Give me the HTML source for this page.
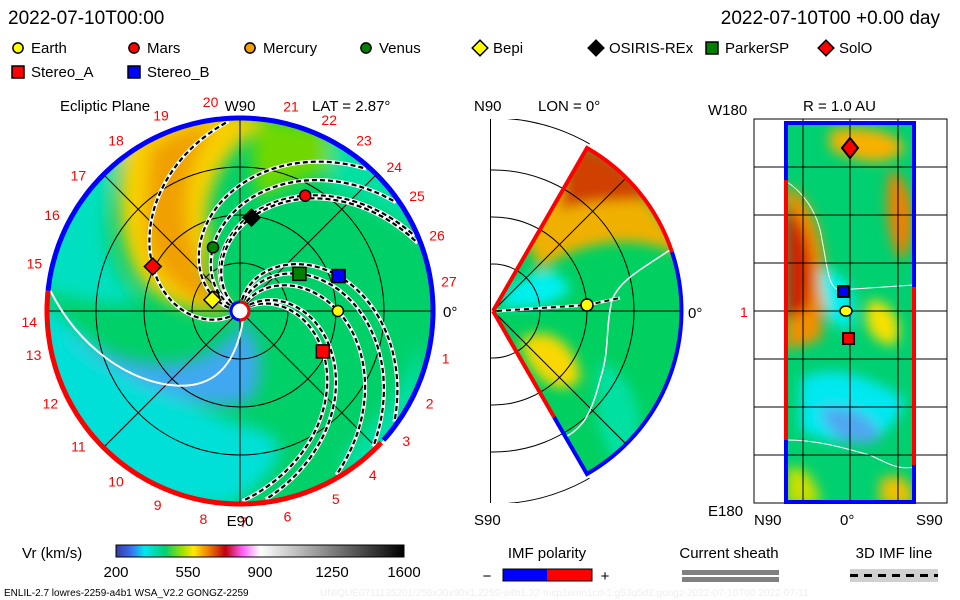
<!DOCTYPE html>
<html><head><meta charset="utf-8"><style>
body{margin:0;background:#fff;width:960px;height:600px;overflow:hidden;font-family:"Liberation Sans",sans-serif}
svg{position:absolute;left:0;top:0}
text{font-family:"Liberation Sans",sans-serif}
</style></head><body>
<svg id="s" width="960" height="600" viewBox="0 0 960 600">
<defs>
<filter id="bl" x="-50%" y="-50%" width="200%" height="200%"><feGaussianBlur stdDeviation="8"/></filter>
<filter id="bl2" x="-50%" y="-50%" width="200%" height="200%"><feGaussianBlur stdDeviation="6"/></filter>
<clipPath id="disk"><circle cx="240" cy="311" r="193"/></clipPath>
<clipPath id="wedge"><path d="M493,311 L587,148 A188,188 0 0 1 587,474 Z"/></clipPath>
<clipPath id="outside"><path d="M490,119 L604,119 L493,311 L604,503 L490,503 Z"/></clipPath>
<clipPath id="rect"><rect x="786" y="123" width="128" height="379"/></clipPath>
<linearGradient id="cbar" x1="0" x2="1">
<stop offset="0" stop-color="#3a3aa0"/><stop offset="0.05" stop-color="#3a6af0"/><stop offset="0.1" stop-color="#00e8f0"/>
<stop offset="0.17" stop-color="#00d070"/><stop offset="0.23" stop-color="#a0e000"/><stop offset="0.27" stop-color="#ffe800"/>
<stop offset="0.32" stop-color="#f08000"/><stop offset="0.38" stop-color="#c00010"/><stop offset="0.44" stop-color="#ff60ff"/>
<stop offset="0.5" stop-color="#ffffff"/><stop offset="1" stop-color="#000000"/></linearGradient>
</defs>

<text x="8" y="24" font-size="19">2022-07-10T00:00</text>
<text x="940" y="24" font-size="19" text-anchor="end">2022-07-10T00 +0.00 day</text>
<g id="legend" font-size="15"></g>

<!-- Ecliptic panel -->
<g>
<g clip-path="url(#disk)">
<rect x="40" y="110" width="400" height="400" fill="#00d068"/>
<g filter="url(#bl)">
<path d="M40,300 C80,330 150,400 260,430 C300,445 270,480 230,505 L40,505 Z" fill="#00e0d8"/>
<path d="M60,330 C120,380 200,420 250,400 C270,370 255,340 245,320 C220,360 160,390 60,330 Z" fill="#40a8f0"/>
<path d="M40,230 C60,180 90,150 130,130 C100,200 90,260 140,300 C120,310 80,300 40,290 Z" fill="#00e0c0"/>
<path d="M130,125 C180,105 240,108 270,120 C220,150 200,200 210,240 C200,270 215,300 235,312 C190,315 150,300 135,270 C115,230 115,170 130,125 Z" fill="#f8d000"/>
<path d="M150,150 C175,130 200,125 215,125 C180,170 170,240 230,310 C180,300 150,270 145,230 Z" fill="#f0a000"/>
<path d="M260,120 C320,120 380,150 400,170 C340,160 290,180 260,200 C250,170 250,140 260,120 Z" fill="#70d800"/>
<path d="M330,130 C380,150 420,200 430,240 C400,220 360,200 330,190 Z" fill="#00e0a0"/>
<path d="M340,460 C380,420 410,380 420,340 C430,400 400,460 360,490 Z" fill="#00e0a8"/>
</g>
</g>
<g fill="none" stroke="#000" stroke-width="1">
<circle cx="240" cy="311" r="48"/><circle cx="240" cy="311" r="96"/><circle cx="240" cy="311" r="144"/>
<line x1="47" y1="311" x2="433" y2="311"/><line x1="240" y1="118" x2="240" y2="504"/>
<line x1="104" y1="175" x2="376" y2="447"/><line x1="104" y1="447" x2="376" y2="175"/>
</g>
<path d="M50,290 C80,350 130,380 170,385 C210,390 235,370 243,320" fill="none" stroke="#fff" stroke-width="2"/>
<g id="spirals"></g>
<path id="rimblue" fill="none" stroke="#0000ff" stroke-width="5"/>
<path id="rimred" fill="none" stroke="#ff0000" stroke-width="5"/>
<circle cx="240" cy="311" r="9" fill="#fff" stroke="#0000ff" stroke-width="3"/>
<path d="M240,302 A9,9 0 0 1 240,320" fill="none" stroke="#f00" stroke-width="3"/>
<g id="bodies"></g>
<g id="rimlabels" font-size="14" fill="#ff0000" text-anchor="middle"></g>
<text x="60" y="111" font-size="15">Ecliptic Plane</text>
<text x="240" y="111" font-size="15" text-anchor="middle">W90</text>
<text x="312" y="111" font-size="15">LAT = 2.87°</text>
<text x="240" y="526" font-size="15" text-anchor="middle">E90</text>
<text x="443" y="317" font-size="15">0°</text>
</g>

<!-- Meridional panel -->
<g>
<rect x="490" y="119" width="1" height="384" fill="#000"/>
<g fill="none" stroke="#000" clip-path="url(#outside)">
<circle cx="493" cy="311" r="47"/><circle cx="493" cy="311" r="94"/><circle cx="493" cy="311" r="141"/><circle cx="493" cy="311" r="193"/>
</g>
<g clip-path="url(#wedge)">
<rect x="480" y="130" width="220" height="360" fill="#00d060"/>
<g filter="url(#bl2)">
<path d="M520,225 C560,170 600,150 640,190 L690,260 C640,230 580,240 540,270 Z" fill="#f0b000"/>
<path d="M570,150 C600,140 630,170 650,200 C620,200 590,200 560,210 Z" fill="#d04000"/>
<path d="M500,300 C520,270 560,260 570,290 C550,310 520,310 500,305 Z" fill="#00f0f0"/>
<path d="M520,340 C550,320 580,350 580,380 C560,400 530,380 520,340 Z" fill="#f8d800"/>
<path d="M600,360 C640,380 650,430 630,470 C600,460 590,410 600,360 Z" fill="#00e0a0"/>
</g>
<g fill="none" stroke="#000"><circle cx="493" cy="311" r="47"/><circle cx="493" cy="311" r="94"/><circle cx="493" cy="311" r="141"/>
<line x1="493" y1="311" x2="700" y2="311"/><line x1="493" y1="311" x2="660" y2="144"/><line x1="493" y1="311" x2="660" y2="478"/></g>
<path d="M673,248 C640,270 620,280 612,300 C605,330 610,350 600,380 C590,420 580,430 560,440" fill="none" stroke="#fff" stroke-width="1.5"/>
</g>
<path d="M493,311 L587,148 A188,188 0 0 1 672,252" fill="none" stroke="#f00" stroke-width="4"/>
<path d="M672,252 A188,188 0 0 1 587,474 L554,417" fill="none" stroke="#00f" stroke-width="4"/>
<path d="M554,417 L493,311" fill="none" stroke="#f00" stroke-width="4"/>
<path d="M497,311 L587,305 L620,298" fill="none" stroke="#fff" stroke-width="3"/>
<path d="M497,311 L587,305 L620,298" fill="none" stroke="#000" stroke-width="2" stroke-dasharray="5,4"/>
<circle cx="587" cy="305" r="6" fill="#ffff00" stroke="#000" stroke-width="1.5"/>
<text x="474" y="111" font-size="15">N90</text>
<text x="538" y="111" font-size="15">LON = 0°</text>
<text x="474" y="525" font-size="15">S90</text>
<text x="688" y="318" font-size="15">0°</text>
</g>

<!-- R=1AU panel -->
<g>
<rect x="754" y="119" width="193" height="384" fill="#fff" stroke="#000"/>
<g clip-path="url(#rect)">
<rect x="780" y="120" width="140" height="385" fill="#00d070"/>
<g filter="url(#bl2)">
<path d="M786,185 C815,195 835,260 820,340 L786,350 Z" fill="#f09000"/>
<path d="M786,205 C808,225 818,260 808,310 L786,320 Z" fill="#d02000"/>
<path d="M830,130 C860,125 900,130 905,150 C880,170 860,160 830,150 Z" fill="#f8b000"/>
<path d="M890,170 C918,180 918,250 900,260 C885,230 885,200 890,170 Z" fill="#f08000"/>
<path d="M870,300 C895,300 905,330 895,345 C870,345 860,320 870,300 Z" fill="#f8e000"/>
<path d="M820,270 C850,270 860,300 850,330 C830,330 820,300 820,270 Z" fill="#00f0f0"/>
<path d="M800,380 C830,360 880,380 905,400 C890,450 840,450 800,430 Z" fill="#00e8f0"/>
<path d="M820,410 C850,400 880,420 880,440 C850,450 830,440 820,410 Z" fill="#50a8f0"/>
<path d="M786,470 C800,460 820,480 820,505 L786,505 Z" fill="#c8e000"/>
<path d="M880,480 C900,470 914,480 914,505 L880,505 Z" fill="#f0c000"/>
</g>
</g>
<path d="M787,182 C800,190 818,210 822,240 C828,270 828,285 838,290 L914,285" fill="none" stroke="#fff" stroke-width="1"/>
<path d="M787,440 C820,440 850,450 870,455 C890,465 900,470 914,467" fill="none" stroke="#fff" stroke-width="1"/>
<g stroke="#000" stroke-width="1">
<line x1="803" y1="119" x2="803" y2="503"/><line x1="850" y1="119" x2="850" y2="503"/><line x1="898" y1="119" x2="898" y2="503"/>
<line x1="754" y1="167" x2="947" y2="167"/><line x1="754" y1="215" x2="947" y2="215"/><line x1="754" y1="263" x2="947" y2="263"/>
<line x1="754" y1="311" x2="947" y2="311"/><line x1="754" y1="359" x2="947" y2="359"/><line x1="754" y1="407" x2="947" y2="407"/><line x1="754" y1="455" x2="947" y2="455"/>
</g>
<rect x="786" y="123" width="128" height="379" fill="none" stroke="#00f" stroke-width="4"/>
<line x1="786" y1="180" x2="786" y2="440" stroke="#f00" stroke-width="4"/>
<line x1="914" y1="287" x2="914" y2="465" stroke="#f00" stroke-width="4"/>
<rect x="838" y="286" width="11" height="11" fill="#0000ff" stroke="#000" stroke-width="2"/>
<ellipse cx="846" cy="311" rx="6" ry="5" fill="#ffff00" stroke="#000" stroke-width="1.5"/>
<rect x="843" y="333" width="11" height="11" fill="#ff0000" stroke="#000" stroke-width="2"/>
<path d="M850,138 L858,148 L850,158 L842,148 Z" fill="#ff0000" stroke="#000" stroke-width="2"/>
<text x="803" y="111" font-size="15">R = 1.0 AU</text>
<text x="708" y="115" font-size="15">W180</text>
<text x="708" y="516" font-size="15">E180</text>
<text x="740" y="317" font-size="14" fill="#f00">1</text>
<text x="754" y="525" font-size="15">N90</text>
<text x="840" y="525" font-size="15">0°</text>
<text x="916" y="525" font-size="15">S90</text>
</g>

<!-- bottom legends -->
<g>
<text x="22" y="558" font-size="15">Vr (km/s)</text>
<rect x="116" y="545" width="288" height="12" fill="url(#cbar)"/>
<rect x="116" y="545" width="288" height="12" fill="none" stroke="#000"/>
<g id="cbticks" font-size="15" text-anchor="middle"></g>
</g>
<g>
<text x="547" y="558" font-size="15" text-anchor="middle">IMF polarity</text>
<rect x="503" y="569" width="44" height="12" fill="#0000ff"/><rect x="547" y="569" width="45" height="12" fill="#ff0000"/>
<rect x="503" y="569" width="89" height="12" fill="none" stroke="#000"/>
<text x="487" y="581" font-size="15" text-anchor="middle">−</text><text x="605" y="581" font-size="15" text-anchor="middle">+</text>
</g>
<g>
<text x="729" y="558" font-size="15" text-anchor="middle">Current sheath</text>
<rect x="682" y="570" width="97" height="5" fill="#808080"/><rect x="682" y="577" width="97" height="5" fill="#808080"/>
</g>
<g>
<text x="894" y="558" font-size="15" text-anchor="middle">3D IMF line</text>
<rect x="850" y="569" width="88" height="13" fill="#d0d0d0"/>
<line x1="850" y1="575.5" x2="938" y2="575.5" stroke="#000" stroke-width="3" stroke-dasharray="8,6"/>
</g>
<text x="4" y="596" font-size="10">ENLIL-2.7 lowres-2259-a4b1 WSA_V2.2 GONGZ-2259</text>
<text x="320" y="596" font-size="10" fill="#eeeeee">UNIQUE0711135201/256x30x90x1.2259-a4b1.32-mcp1umn1cd-1.g53q5d2.gongz-2022-07-10T00   2022-07-11</text>
</svg>
<script>
// ---- data ----
const bodyNames = ["Earth","Mars","Venus","Mercury","Bepi","OSIRIS-REx","ParkerSP","Stereo_A","Stereo_B","SolO"];
const bodyR = [1.02, 1.38, 0.72, 0.31, 0.31, 0.98, 0.73, 0.96, 1.09, 1.02];   // AU
const bodyLon = [0, 60.5, 113, 152, 158, 83, 32, -26, 19.5, 153];             // deg
const spiralLon = [0, 60.5, 113, 152, 83, 32, -26, 19.5, 153, -40];
const spiralR = [1.02, 1.38, 0.72, 0.31, 0.98, 0.73, 0.96, 1.09, 1.02, 1.3];
const rimLabels = ["20","21","22","23","24","25","26","27","1","2","3","4","5","6","7","8","9","10","11","12","13","14","15","16","17","18","19"];
const rimLabelLon = [98,76,65,54,43,33,21,8,-13,-26,-38,-51,-63,-77,-89,-100,-113,-126,-140,-154,-168,-177,167,153,140,126,112];
const cbTicks = ["200","550","900","1250","1600"];
const cbVals = [200,550,900,1250,1600];

const NS="http://www.w3.org/2000/svg";
const cx=240, cy=311, pxPerAU=96, wind=62; // deg per AU
function X(r,lon){return cx+r*pxPerAU*Math.cos(lon*Math.PI/180);}
function Y(r,lon){return cy-r*pxPerAU*Math.sin(lon*Math.PI/180);}
function mk(tag,attrs,parent){const e=document.createElementNS(NS,tag);for(const k in attrs)e.setAttribute(k,attrs[k]);parent.appendChild(e);return e;}

const sp=document.getElementById('spirals');
spiralLon.forEach((lon,i)=>{
  let d="";
  for(let r=0.12;r<=2.0;r+=0.02){const a=lon-(r-spiralR[i])*wind;d+=(d?"L":"M")+X(r,a).toFixed(1)+","+Y(r,a).toFixed(1);}
  const w=mk('path',{d:d,fill:"none",stroke:"#fff","stroke-width":4},sp);
  
  
  const b=mk('path',{d:d,fill:"none",stroke:"#000","stroke-width":2.2,"stroke-dasharray":"5,3"},sp);
  
  
});
function arc(a0,a1){let d="";for(let a=a0;a>=a1;a-=1){const x=cx+193*Math.cos(a*Math.PI/180),y=cy-193*Math.sin(a*Math.PI/180);d+=(d?"L":"M")+x.toFixed(1)+","+y.toFixed(1);}return d;}
document.getElementById('rimblue').setAttribute('d',arc(174,-42));
document.getElementById('rimred').setAttribute('d',arc(-43,-186));
const rl=document.getElementById('rimlabels');
rimLabels.forEach((t,i)=>{
  const a=rimLabelLon[i]*Math.PI/180, R=211;
  const e=mk('text',{x:(cx+R*Math.cos(a)).toFixed(1),y:(cy-R*Math.sin(a)+5).toFixed(1)},rl);
  e.textContent=t;
  
  
});
const styles={Earth:["circle","#ffff00"],Mars:["circle","#ff0000"],Mercury:["circle","#f0a000"],Venus:["circle","#008000"],Bepi:["diamond","#ffff00"],"OSIRIS-REx":["diamond","#000"],ParkerSP:["square","#008000"],SolO:["diamond","#ff0000"],Stereo_A:["square","#ff0000"],Stereo_B:["square","#0000ff"]};
function marker(kind,fill,x,y,s,parent){
  if(kind==="circle")return mk('circle',{cx:x,cy:y,r:s*0.85,fill:fill,stroke:"#000","stroke-width":1.5},parent);
  if(kind==="square")return mk('rect',{x:x-s,y:y-s,width:2*s,height:2*s,fill:fill,stroke:"#000","stroke-width":1.5},parent);
  const k=s*1.3;return mk('path',{d:`M${x},${y-k}L${x+k},${y}L${x},${y+k}L${x-k},${y}Z`,fill:fill,stroke:"#000","stroke-width":1.5},parent);
}
const bg=document.getElementById('bodies');
bodyNames.forEach((n,i)=>{
  const st=styles[n];
  const m=marker(st[0],st[1],X(bodyR[i],bodyLon[i]),Y(bodyR[i],bodyLon[i]),6.5,bg);
  
  
});
const lg=document.getElementById('legend');
const legOrder=["Earth","Mars","Mercury","Venus","Bepi","OSIRIS-REx","ParkerSP","SolO","Stereo_A","Stereo_B"];
const legX=[18,134,250,366,480,596,712,826,18,134];
const legY=[48,48,48,48,48,48,48,48,72,72];
legOrder.forEach((n,i)=>{
  const st=styles[n];
  const m=marker(st[0],st[1],legX[i],legY[i],6,lg);
  
  
  const t=mk('text',{x:legX[i]+13,y:legY[i]+5},lg);t.textContent=n;
  
  
});
const cb=document.getElementById('cbticks');
cbVals.forEach((v,i)=>{
  const x=116+(v-200)/1400*288;
  const t=mk('text',{x:x,y:577},cb);t.textContent=cbTicks[i];
  
  
});
</script>
</body></html>
